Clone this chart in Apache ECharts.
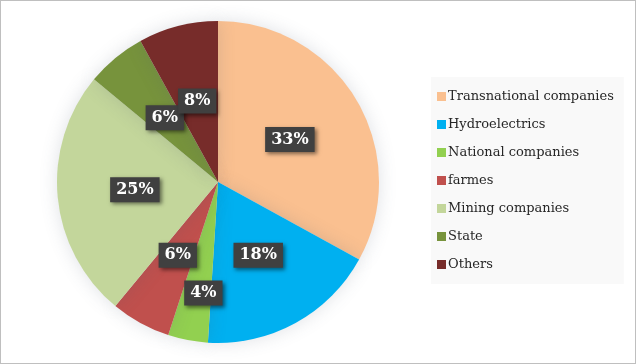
<!DOCTYPE html>
<html>
<head>
<meta charset="utf-8">
<script src="https://cdn.jsdelivr.net/npm/echarts@6/dist/echarts.min.js"></script>
<style>
  html, body { margin: 0; padding: 0; background: #fff; }
  #chart { width: 636px; height: 364px; box-sizing: border-box; border: 1px solid #bfbfbf; }
</style>
</head>
<body>
<div id="chart"></div>
<script>
var categories = ['Transnational companies', 'Hydroelectrics', 'National companies', 'farmes', 'Mining companies', 'State', 'Others'];
var shares = [33, 18, 4, 6, 25, 6, 8];
var colors = ['#FAC090', '#00B0F0', '#92D050', '#C0504D', '#C3D69B', '#77933C', '#772C2A'];

var pieData = categories.map(function (name, i) {
  return { name: name, value: shares[i], itemStyle: { color: colors[i] } };
});

option = {
  backgroundColor: '#fff',
  legend: {
    orient: 'vertical',
    left: 430,
    top: 76,
    padding: [13, 10, 13, 6],
    backgroundColor: '#f9f9f9',
    icon: 'rect',
    itemWidth: 9,
    itemHeight: 9,
    itemGap: 15,
    textStyle: {
      fontFamily: 'DejaVu Serif',
      fontSize: 13,
      color: '#262626',
      padding: [0, 0, 0, -3]
    },
    data: categories
  },
  series: [
    {
      name: 'share',
      type: 'pie',
      center: [217, 181],
      radius: 161,
      startAngle: 90,
      clockwise: true,
      avoidLabelOverlap: false,
      itemStyle: {
        borderWidth: 0,
        shadowBlur: 18,
        shadowColor: 'rgba(80, 90, 110, 0.18)'
      },
      emphasis: { disabled: true },
      label: {
        show: true,
        position: 'inside',
        formatter: '{c}%',
        fontFamily: 'DejaVu Serif',
        fontWeight: 'bold',
        fontSize: 16,
        color: '#fff',
        backgroundColor: '#404040',
        padding: [5, 6, 4, 6],
        shadowColor: 'rgba(0,0,0,0.5)',
        shadowBlur: 4,
        shadowOffsetX: 2,
        shadowOffsetY: 2
      },
      labelLayout: function (params) {
        // the 4% label sits further out in the original
        if (params.dataIndex === 2) {
          return { dy: 29, dx: 1 };
        }
        return {};
      },
      data: pieData
    }
  ]
};

var myChart = echarts.init(document.getElementById('chart'));
myChart.setOption(option);
</script>
</body>
</html>
